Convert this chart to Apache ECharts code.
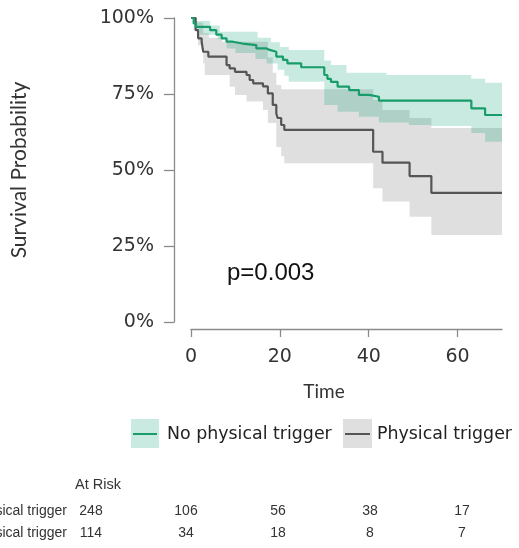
<!DOCTYPE html>
<html><head><meta charset="utf-8">
<script src="https://cdn.jsdelivr.net/npm/echarts@6/dist/echarts.min.js"></script>
<style>html,body{margin:0;padding:0;background:#fff}#c{width:519px;height:548px}</style>
</head><body><div id="c"></div>
<script>
// ---- data ----
const groupNames = ['No physical trigger', 'Physical trigger'];
const xTicks = [0, 20, 40, 60];
const yTicks = [0, 0.25, 0.5, 0.75, 1];
const pValueText = 'p=0.003';
const atRiskTitle = 'At Risk';
const atRiskNoTrigger = [248, 106, 56, 38, 17];
const atRiskTrigger = [114, 34, 18, 8, 7];

const noTriggerCurve = [[0,1],[0.6,0.982],[1.1,0.971],[4.3,0.96],[5.7,0.945],[6.9,0.933],[8.0,0.922],[9.4,0.916],[11.6,0.911],[14.7,0.9],[17.0,0.895],[17.7,0.889],[19.2,0.873],[20.7,0.862],[21.7,0.851],[24.8,0.838],[30.0,0.8125],[30.7,0.80],[31.5,0.79],[33.0,0.774],[35.6,0.763],[37.8,0.747],[40.1,0.741],[42.3,0.728],[63.1,0.703],[66.2,0.681],[70,0.681]];
const noTriggerUpper = [[0,1],[1,0.99],[4.3,0.975],[6.5,0.955],[15,0.935],[18,0.92],[20,0.905],[22,0.895],[30,0.86],[31.5,0.845],[35,0.82],[44,0.8125],[63.1,0.80],[66.2,0.787],[70,0.787]];
const noTriggerLower = [[0,1],[0.6,0.96],[2,0.945],[6,0.93],[8,0.90],[10,0.885],[14.5,0.865],[17,0.85],[19.5,0.83],[21,0.81],[22,0.79],[30,0.714],[33,0.692],[37.8,0.675],[42.3,0.656],[49,0.648],[54,0.645],[63.1,0.622],[66.2,0.593],[70,0.593]];

const triggerCurve = [[0,1],[1.05,0.96],[1.6,0.933],[2.4,0.922],[2.75,0.889],[3.9,0.873],[8.0,0.845],[8.7,0.834],[9.9,0.823],[12.5,0.8125],[13.2,0.796],[14.0,0.785],[16.2,0.775],[17.3,0.752],[18.4,0.714],[19.2,0.686],[19.5,0.671],[20.3,0.648],[21.0,0.632],[41.0,0.56],[43.1,0.524],[49.2,0.48],[54.1,0.425],[70,0.425]];
const triggerUpper = [[0,1],[1,0.985],[2.75,0.95],[4,0.935],[7,0.922],[17.3,0.87],[18.4,0.82],[19.2,0.78],[20.3,0.766],[41,0.73],[43.1,0.697],[49.2,0.671],[54.1,0.638],[70,0.638]];
const triggerLower = [[0,1],[0.9,0.97],[1.6,0.91],[2.75,0.85],[3.1,0.8125],[8.7,0.774],[9.9,0.747],[12.5,0.725],[16.2,0.697],[17.3,0.655],[19.2,0.576],[20.3,0.545],[21.0,0.522],[41.0,0.44],[43.1,0.396],[49.2,0.346],[54.1,0.286],[70,0.286]];

// ---- styles ----
const GREEN = '#179c6a', GRAY = '#555555';
const GREEN_FILL = 'rgba(0,158,115,0.21)', GRAY_FILL = 'rgba(128,128,128,0.25)';
const AXIS_COL = '#8a8a8a';

function stepAt(arr, t) { let v = arr[0][1]; for (const p of arr) { if (p[0] <= t) v = p[1]; else break; } return v; }
function bandData(lo, hi) {
  const ts = [...new Set([...lo.map(p => p[0]), ...hi.map(p => p[0])])].sort((a, b) => a - b);
  return ts.map(t => [t, stepAt(lo, t), stepAt(hi, t)]);
}
function bandSeries(lo, hi, fill, name) {
  const d = bandData(lo, hi);
  return {
    type: 'custom', name: name, silent: true, z: 1,
    encode: { x: 0, y: [1, 2] },
    data: d,
    renderItem: function (params, api) {
      if (params.dataIndex !== 0) return null;
      const pts = [];
      for (let i = 0; i < d.length - 1; i++) {
        pts.push(api.coord([d[i][0], d[i][2]]));
        pts.push(api.coord([d[i + 1][0], d[i][2]]));
      }
      for (let i = d.length - 2; i >= 0; i--) {
        pts.push(api.coord([d[i + 1][0], d[i][1]]));
        pts.push(api.coord([d[i][0], d[i][1]]));
      }
      return { type: 'polygon', shape: { points: pts }, style: { fill: fill } };
    }
  };
}

const chart = echarts.init(document.getElementById('c'), null, { renderer: 'canvas' });
const labelFont = { fontFamily: 'DejaVu Sans', fontSize: 19, color: '#333' };
const tableFont = 'Liberation Sans';
const colX = [91, 186, 278, 370, 462];

const graphics = [
  { type: 'text', x: 19, y: 170, rotation: Math.PI / 2, style: { text: 'Survival Probability', fontFamily: 'Lato', fontSize: 21, fill: '#333', align: 'center', verticalAlign: 'middle' } },
  { type: 'text', x: 324, y: 392, style: { text: 'Time', fontFamily: 'Lato', fontSize: 19, fill: '#333', align: 'center', verticalAlign: 'middle' } },
  { type: 'text', x: 227, y: 273, style: { text: pValueText, fontFamily: tableFont, fontSize: 24, fill: '#111', align: 'left', verticalAlign: 'middle' } },
  // legend
  { type: 'rect', shape: { x: 131, y: 419, width: 28, height: 29 }, style: { fill: GREEN_FILL } },
  { type: 'line', shape: { x1: 133, y1: 434, x2: 157, y2: 434 }, style: { stroke: GREEN, lineWidth: 2 } },
  { type: 'text', x: 167, y: 434, style: { text: groupNames[0], fontFamily: 'DejaVu Sans', fontSize: 17.4, fill: '#222', verticalAlign: 'middle' } },
  { type: 'rect', shape: { x: 343, y: 419, width: 29, height: 29 }, style: { fill: GRAY_FILL } },
  { type: 'line', shape: { x1: 345, y1: 434, x2: 370, y2: 434 }, style: { stroke: GRAY, lineWidth: 2 } },
  { type: 'text', x: 377, y: 434, style: { text: groupNames[1], fontFamily: 'DejaVu Sans', fontSize: 17.4, fill: '#222', verticalAlign: 'middle' } },
  // at risk table
  { type: 'text', x: 75, y: 485, style: { text: atRiskTitle, fontFamily: tableFont, fontSize: 14.5, fill: '#333', verticalAlign: 'middle' } },
  { type: 'text', x: 67, y: 511, style: { text: groupNames[0], fontFamily: tableFont, fontSize: 14, fill: '#333', align: 'right', verticalAlign: 'middle' } },
  { type: 'text', x: 67, y: 533, style: { text: groupNames[1], fontFamily: tableFont, fontSize: 14, fill: '#333', align: 'right', verticalAlign: 'middle' } }
];
atRiskNoTrigger.forEach((v, i) => graphics.push({ type: 'text', x: colX[i], y: 511, style: { text: String(v), fontFamily: tableFont, fontSize: 14, fill: '#333', align: 'center', verticalAlign: 'middle' } }));
atRiskTrigger.forEach((v, i) => graphics.push({ type: 'text', x: colX[i], y: 533, style: { text: String(v), fontFamily: tableFont, fontSize: 14, fill: '#333', align: 'center', verticalAlign: 'middle' } }));

chart.setOption({
  animation: false,
  backgroundColor: '#fff',
  grid: { left: 191, right: 17, top: 18, bottom: 226 },
  xAxis: {
    type: 'value', min: 0, max: 70, interval: 20, offset: 7,
    axisLine: { show: true, onZero: false, lineStyle: { color: AXIS_COL, width: 1.3 } },
    axisTick: { show: true, length: 8, customValues: xTicks, lineStyle: { color: AXIS_COL, width: 1.3 } },
    axisLabel: Object.assign({ customValues: xTicks, margin: 19 }, labelFont),
    splitLine: { show: false }
  },
  yAxis: {
    type: 'value', min: 0, max: 1, interval: 0.25, offset: 17,
    axisLine: { show: true, onZero: false, lineStyle: { color: AXIS_COL, width: 1.3 } },
    axisTick: { show: true, length: 10, customValues: yTicks, lineStyle: { color: AXIS_COL, width: 1.3 } },
    axisLabel: Object.assign({ customValues: yTicks, margin: 20, formatter: v => Math.round(v * 100) + '%' }, labelFont),
    splitLine: { show: false }
  },
  series: [
    bandSeries(triggerLower, triggerUpper, GRAY_FILL, groupNames[1] + ' CI'),
    bandSeries(noTriggerLower, noTriggerUpper, GREEN_FILL, groupNames[0] + ' CI'),
    { type: 'line', name: groupNames[1], data: triggerCurve, step: 'end', showSymbol: false, z: 3, lineStyle: { color: GRAY, width: 2.2 }, itemStyle: { color: GRAY } },
    { type: 'line', name: groupNames[0], data: noTriggerCurve, step: 'end', showSymbol: false, z: 4, lineStyle: { color: GREEN, width: 2.2 }, itemStyle: { color: GREEN } }
  ],
  graphic: graphics
});
</script>
</body></html>
